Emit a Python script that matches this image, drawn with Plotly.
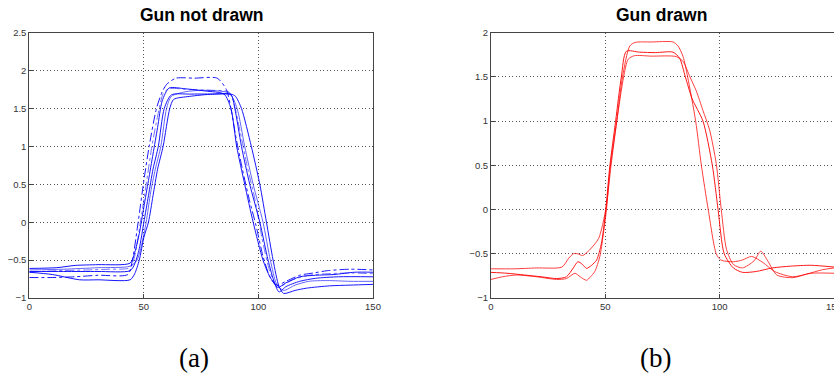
import plotly.graph_objects as go

# ---------------- data: left panel "Gun not drawn" (blue) ----------------
L1_x = [0,12,20,30,44,46,48,50,52,54,56,58,61,68,77,85,88,90.5,94,97.7,102,105,108.5,112,118,125,133,142,150]
L1_y = [-0.61,-0.60,-0.57,-0.56,-0.54,-0.4,-0.15,0.2,0.55,0.9,1.25,1.6,1.77,1.76,1.73,1.69,1.5,1.0,0.5,0.0,-0.5,-0.72,-0.86,-0.8,-0.72,-0.70,-0.69,-0.66,-0.66]

L2_x = [0,15,30,44,46,48,50,52,54,56.3,58.9,62,70,80,88,89.7,92.6,96.2,100.6,104.2,107,109,112,118,125,135,150]
L2_y = [-0.65,-0.65,-0.65,-0.64,-0.55,-0.35,0.0,0.35,0.7,1.0,1.5,1.68,1.69,1.69,1.68,1.5,1.0,0.5,0.0,-0.5,-0.8,-0.92,-0.85,-0.78,-0.74,-0.72,-0.72]

L3_x = [0,10,22,30,44,46,48,50,52,54,56,58.4,61.3,63,70,80,88,90,92.6,96.9,100.6,103.5,106.4,109,111,116,121,131,140,150]
L3_y = [-0.66,-0.69,-0.76,-0.76,-0.76,-0.68,-0.5,-0.2,0.0,0.35,0.7,1.0,1.5,1.62,1.66,1.69,1.69,1.66,1.5,1.0,0.5,0.0,-0.5,-0.85,-0.94,-0.9,-0.87,-0.84,-0.83,-0.82]

L4_x = [0,15,30,44,47,49,51,53,55,57.4,59.9,62,68,75,83,87.5,90.7,94,97.7,102,105.2,108,111,116,122,130,140,150]
L4_y = [-0.63,-0.62,-0.60,-0.58,-0.5,-0.3,0.0,0.4,0.7,1.0,1.5,1.66,1.72,1.74,1.73,1.70,1.5,1.0,0.5,0.0,-0.5,-0.82,-0.9,-0.83,-0.78,-0.77,-0.78,-0.78]

L5_x = [0,10,20,30,43,45,47.5,50,52.3,55.5,58,60,64,72,82,86,88,90,93,96,99,102,105,108,112,118,124,130,140,150]
L5_y = [-0.73,-0.73,-0.72,-0.70,-0.69,-0.5,0.0,0.55,1.0,1.5,1.72,1.82,1.9,1.9,1.9,1.75,1.5,1.15,0.7,0.3,-0.05,-0.45,-0.72,-0.83,-0.78,-0.70,-0.67,-0.64,-0.62,-0.63]

L6_x = [0,12,25,35,44,46,48.5,51,53.5,56,58.5,61,70,80,87,89,92,95,98.5,101.5,104.5,107.5,110,115,122,130,140,150]
L6_y = [-0.66,-0.64,-0.63,-0.62,-0.60,-0.45,0.0,0.5,1.0,1.4,1.7,1.76,1.75,1.74,1.72,1.6,1.2,0.75,0.3,-0.2,-0.6,-0.82,-0.84,-0.76,-0.70,-0.68,-0.67,-0.68]

# ---------------- data: right panel "Gun drawn" (red) ----------------
R1_x = [0,10,20,31,34,36,38,40,43,47,49,50.5,52.5,55,57.5,60.7,63,70,79.6,81.8,84,86,89.5,92,95,98.5,100.5,106,110,114,119,124,132,140,150]
R1_y = [-0.67,-0.67,-0.66,-0.65,-0.55,-0.5,-0.5,-0.52,-0.46,-0.33,-0.15,0.05,0.5,1.0,1.5,1.85,1.89,1.895,1.895,1.85,1.73,1.5,1.0,0.5,0.0,-0.5,-0.57,-0.59,-0.57,-0.53,-0.6,-0.70,-0.76,-0.72,-0.72]

R2_x = [0,7,14.5,22,28.7,33,36,38,40,41.8,44,46.2,48.3,50,52,54.5,57,59.2,65,72,79.6,82.5,85,88,92.7,96.8,99.3,102,106,110,116,123,131,140,150]
R2_y = [-0.71,-0.72,-0.74,-0.76,-0.78,-0.76,-0.66,-0.59,-0.62,-0.665,-0.63,-0.57,-0.38,-0.05,0.5,1.0,1.5,1.79,1.78,1.775,1.78,1.71,1.5,1.25,1.0,0.5,0.0,-0.5,-0.66,-0.71,-0.70,-0.66,-0.64,-0.63,-0.65]

R3_x = [0,5,11.2,20,28.7,33,36.7,39,41.8,43.5,45.4,47.6,49,50.5,52,55,58,60,62.7,70,81,84,87,89.8,92.7,95.6,98.5,100.7,103,106,110,115,118,121,125,132,138,145,150]
R3_y = [-0.79,-0.76,-0.74,-0.76,-0.79,-0.78,-0.72,-0.76,-0.80,-0.76,-0.70,-0.53,-0.3,0.0,0.45,1.0,1.5,1.70,1.74,1.735,1.73,1.675,1.5,1.34,1.12,0.9,0.52,0.0,-0.45,-0.62,-0.66,-0.58,-0.47,-0.58,-0.74,-0.77,-0.73,-0.68,-0.66]

x_ticks = [0, 50, 100, 150]
left_y_ticks = [-1, -0.5, 0, 0.5, 1, 1.5, 2, 2.5]
right_y_ticks = [-1, -0.5, 0, 0.5, 1, 1.5, 2]
titles = ["Gun not drawn", "Gun drawn"]
sub_labels = ["(a)", "(b)"]

left_series = [
    (L1_x, L1_y, "solid", 0.9),
    (L2_x, L2_y, "solid", 0.9),
    (L3_x, L3_y, "solid", 0.9),
    (L4_x, L4_y, "solid", 0.6),
    (L5_x, L5_y, "dashdot", 0.9),
    (L6_x, L6_y, "dashdot", 0.55),
]
right_series = [
    (R1_x, R1_y, "solid", 0.75),
    (R2_x, R2_y, "solid", 0.9),
    (R3_x, R3_y, "solid", 0.75),
]

W, H = 834, 376
def px_x(p): return p / W
def px_y(p): return 1 - p / H

fig = go.Figure()
for xs, ys, dash, op in left_series:
    fig.add_trace(go.Scatter(x=xs, y=ys, mode="lines", xaxis="x", yaxis="y",
                             line=dict(color="#0000ff", width=1, dash=dash, shape="spline", smoothing=0.7),
                             opacity=op, showlegend=False, hoverinfo="skip"))
for xs, ys, dash, op in right_series:
    fig.add_trace(go.Scatter(x=xs, y=ys, mode="lines", xaxis="x2", yaxis="y2",
                             line=dict(color="#ff0000", width=1, dash=dash, shape="spline", smoothing=0.7),
                             opacity=op, showlegend=False, hoverinfo="skip"))

tick_font = dict(family="Liberation Sans, Arial, sans-serif", size=9.5, color="#333333")
common_axis = dict(showline=True, mirror=True, linecolor="#444444", linewidth=1,
                   ticks="inside", ticklen=4, tickcolor="#444444", tickwidth=1,
                   showgrid=True, gridcolor="#555555", gridwidth=1, griddash="1px,2.5px",
                   zeroline=False, tickfont=tick_font, ticklabeloverflow="allow",
                   automargin=False)

y_dom = [px_y(298), px_y(32.7)]
fig.update_layout(
    width=W, height=H, margin=dict(l=0, r=0, t=0, b=0, autoexpand=False),
    paper_bgcolor="white", plot_bgcolor="white",
    xaxis=dict(domain=[px_x(29.3), px_x(373)], range=[0, 150], tickvals=x_ticks, anchor="y", **common_axis),
    yaxis=dict(domain=y_dom, range=[-1, 2.5], tickvals=left_y_ticks, anchor="x", **common_axis),
    xaxis2=dict(domain=[px_x(491), 1.0], range=[0, 150], tickvals=x_ticks, anchor="y2", **common_axis),
    yaxis2=dict(domain=y_dom, range=[-1, 2], tickvals=right_y_ticks, anchor="x2", **common_axis),
)

title_font = dict(family="Liberation Sans, Arial, sans-serif", size=17.5, color="black")
for cx, txt in zip([201, 661], titles):
    fig.add_annotation(text="<b>" + txt + "</b>", xref="paper", yref="paper", x=px_x(cx), y=px_y(15.5),
                       xanchor="center", yanchor="middle", showarrow=False, font=title_font)
label_font = dict(family="Liberation Serif, DejaVu Serif, serif", size=27, color="black")
for cx, txt in zip([194, 655], sub_labels):
    fig.add_annotation(text=txt, xref="paper", yref="paper", x=px_x(cx), y=px_y(358),
                       xanchor="center", yanchor="middle", showarrow=False, font=label_font)

fig.write_html("out.html")
